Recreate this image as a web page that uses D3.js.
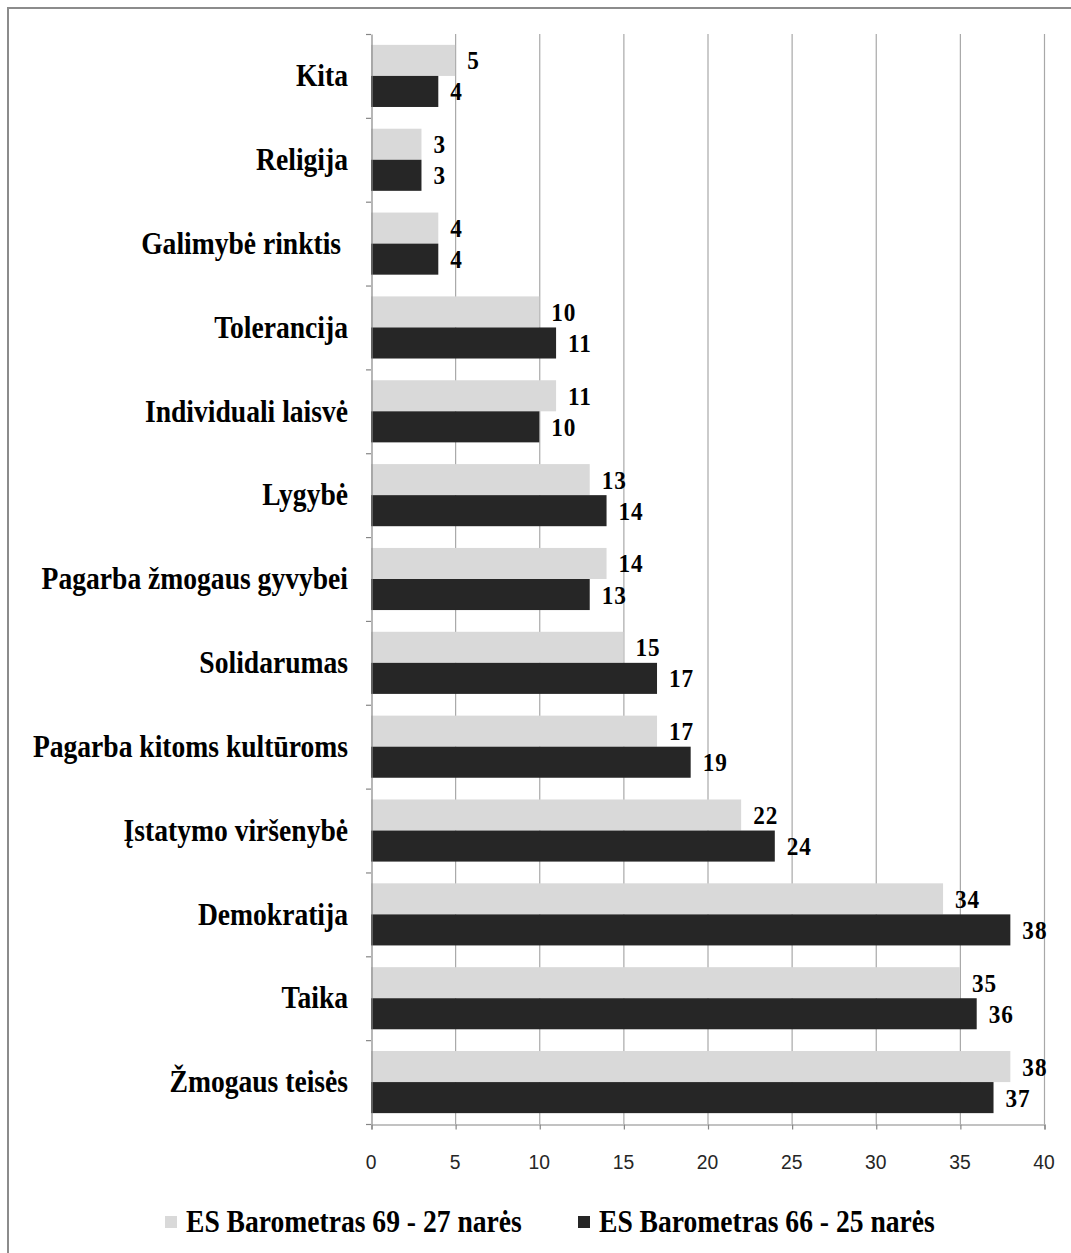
<!DOCTYPE html>
<html><head><meta charset="utf-8">
<script src="https://cdn.jsdelivr.net/npm/d3@7/dist/d3.min.js"></script>
<style>
html,body{margin:0;padding:0;background:#fff;}
svg{display:block;}
</style></head>
<body>
<svg id="chart" width="1071" height="1253"></svg>
<script>
const categories = ["Kita","Religija","Galimybė rinktis\u00a0","Tolerancija","Individuali laisvė","Lygybė","Pagarba žmogaus gyvybei","Solidarumas","Pagarba kitoms kultūroms","Įstatymo viršenybė","Demokratija","Taika","Žmogaus teisės"];
const seriesNames = ["ES Barometras 69 - 27 narės","ES Barometras 66 - 25 narės"];
const series69 = [5,3,4,10,11,13,14,15,17,22,34,35,38];
const series66 = [4,3,4,11,10,14,13,17,19,24,38,36,37];
const xTicks = [0,5,10,15,20,25,30,35,40];
const colors = ["#d9d9d9","#262626"];

const svg = d3.select("#chart");
svg.append("rect").attr("x",0).attr("y",0).attr("width",1071).attr("height",1253).attr("fill","#fff");
// outer chart border
svg.append("rect").attr("x",8).attr("y",8).attr("width",1100).attr("height",1300)
  .attr("fill","none").attr("stroke","#8c8c8c").attr("stroke-width",2);

const plot = {left:371,right:1044,top:34,bottom:1124};
const x = d3.scaleLinear().domain([0,40]).range([plot.left,plot.right]);
const y = d3.scaleBand().domain(categories).range([plot.top,plot.bottom]).padding(0);
const ys = d3.scaleBand().domain([0,1]).range([0,y.bandwidth()]).paddingInner(0).paddingOuter(0.35);

// gridlines
svg.append("g").selectAll("line").data(xTicks.filter(t=>t>0)).join("line")
  .attr("x1",d=>x(d)+0.5).attr("x2",d=>x(d)+0.5)
  .attr("y1",plot.top).attr("y2",plot.bottom)
  .attr("stroke","#a8a8a8").attr("stroke-width",1.2);

// bars
const rows = categories.map((c,i)=>({c,vals:[series69[i],series66[i]]}));
const g = svg.append("g");
rows.forEach(r=>{
  r.vals.forEach((v,s)=>{
    g.append("rect")
      .attr("x",x(0)).attr("y",y(r.c)+ys(s))
      .attr("width",x(v)-x(0)).attr("height",ys.bandwidth())
      .attr("fill",colors[s]);
  });
});

// y axis
const yAxis = d3.axisLeft(y).tickSize(0).tickFormat("");
svg.append("g").attr("transform",`translate(${plot.left+0.5},0)`).call(yAxis)
  .call(s=>s.select(".domain").attr("stroke","#868686").attr("stroke-width",1.2));
// band boundary ticks
const bounds = categories.map(c=>y(c)).concat([plot.bottom]);
svg.append("g").selectAll("line").data(bounds).join("line")
  .attr("x1",plot.left-5).attr("x2",plot.left)
  .attr("y1",d=>d+0.5).attr("y2",d=>d+0.5)
  .attr("stroke","#868686").attr("stroke-width",1.2);

// x axis
const xAxis = d3.axisBottom(x).tickValues(xTicks).tickSize(5).tickFormat("");
svg.append("g").attr("transform",`translate(0.5,${plot.bottom+0.5})`).call(xAxis)
  .call(s=>{s.select(".domain").attr("stroke","#868686").attr("stroke-width",1.2);
            s.selectAll(".tick line").attr("stroke","#868686").attr("stroke-width",1.2);});
svg.append("g").selectAll("text").data(xTicks).join("text")
  .attr("transform",d=>`translate(${x(d)},1169) scale(0.92,1)`)
  .attr("text-anchor","middle")
  .attr("font-family","Liberation Sans, Arial, sans-serif")
  .attr("font-size",21).attr("fill","#262626")
  .text(d=>d);

// category labels
svg.append("g").selectAll("text").data(categories).join("text")
  .attr("transform",d=>`translate(348,${y(d)+y.bandwidth()/2}) scale(0.89,1)`)
  .attr("text-anchor","end").attr("dy","0.33em")
  .attr("font-family","Liberation Serif, Times New Roman, serif")
  .attr("font-weight","bold").attr("font-size",31).attr("fill","#000")
  .style("white-space","pre")
  .text(d=>d);

// value labels
rows.forEach(r=>{
  r.vals.forEach((v,s)=>{
    svg.append("text")
      .attr("transform",`translate(${x(v)+12},${y(r.c)+ys(s)+ys.bandwidth()/2}) scale(0.93,1)`)
      .attr("dy","0.36em")
      .attr("font-family","Liberation Serif, Times New Roman, serif")
      .attr("font-weight","bold").attr("font-size",25).attr("letter-spacing",1).attr("fill","#000")
      .text(v);
  });
});

// legend
const legendX = [165,578];
const lg = svg.append("g");
seriesNames.forEach((n,i)=>{
  lg.append("rect").attr("x",legendX[i]).attr("y",1216).attr("width",12).attr("height",12).attr("fill",colors[i]);
  lg.append("text")
    .attr("transform",`translate(${legendX[i]+21},1222) scale(0.89,1)`)
    .attr("dy","0.33em")
    .attr("font-family","Liberation Serif, Times New Roman, serif")
    .attr("font-weight","bold").attr("font-size",31).attr("fill","#000")
    .text(n);
});
</script>
</body></html>
